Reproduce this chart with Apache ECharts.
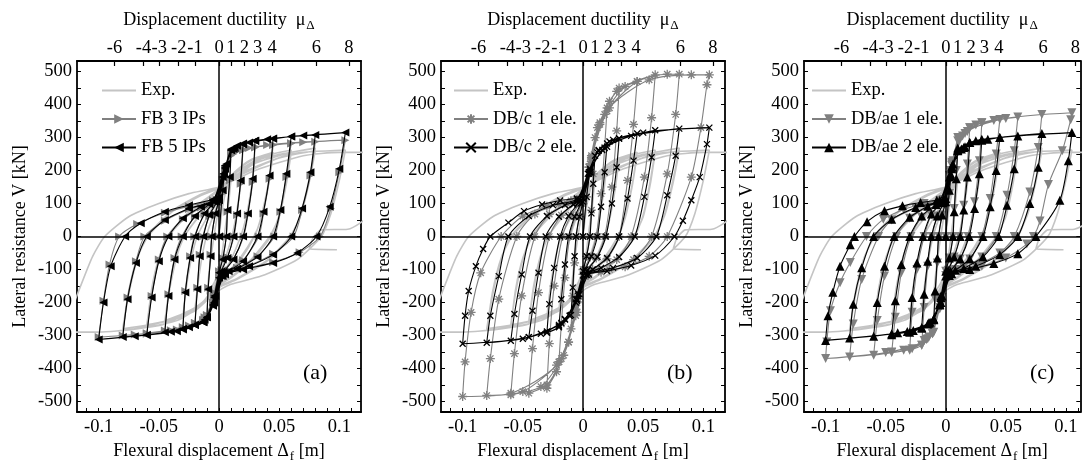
<!DOCTYPE html>
<html><head><meta charset="utf-8">
<script src="https://cdn.jsdelivr.net/npm/echarts@6/dist/echarts.min.js"></script>
<style>html,body{margin:0;padding:0;background:#fff}#c{width:1083px;height:468px}</style>
</head><body><div id="c"></div>
<script>
// ---------- tick labels ----------
const xTickLabels = [-0.1, -0.05, 0, 0.05, 0.1];
const xTickMarks = [-0.11,-0.1,-0.09,-0.08,-0.07,-0.06,-0.05,-0.04,-0.03,-0.02,-0.01,0,0.01,0.02,0.03,0.04,0.05,0.06,0.07,0.08,0.09,0.1,0.11];
const yTickLabels = [-500,-400,-300,-200,-100,0,100,200,300,400,500];
const yTickMarks = [-500,-450,-400,-350,-300,-250,-200,-150,-100,-50,0,50,100,150,200,250,300,350,400,450,500];
const ductLabels = ['-6','-4','-3','-2','-1','0','1','2','3','4','6','8'];
const ductPositions = [-0.0868,-0.0628,-0.0496,-0.0335,-0.0200,0,0.0099,0.0211,0.0322,0.0442,0.081,0.1079];
const panelLabels = ['(a)','(b)','(c)'];

// ---------- series values [displacement m, force kN] ----------
const expData = [
[0,0],[0.003,90],[0.006,140],[0.01,175],
[0.008,100],[0.005,20],[0.003,-40],[0,-100],[-0.004,-140],[-0.01,-175],
[-0.008,-100],[-0.005,-20],[-0.002,50],[0.002,110],[0.008,165],[0.02,218],
[0.017,130],[0.013,40],[0.01,-10],[0.004,-80],[0,-120],[-0.006,-165],[-0.012,-195],[-0.02,-222],
[-0.017,-130],[-0.013,-40],[-0.009,20],[-0.003,80],[0.002,125],[0.01,180],[0.02,215],[0.03,238],
[0.027,150],[0.022,50],[0.018,0],[0.01,-70],[0.002,-120],[-0.006,-170],[-0.015,-210],[-0.03,-245],
[-0.027,-150],[-0.022,-50],[-0.017,10],[-0.008,70],[0,125],[0.01,185],[0.025,230],[0.045,255],
[0.041,160],[0.035,60],[0.03,5],[0.018,-70],[0.005,-125],[-0.005,-175],[-0.02,-225],[-0.045,-262],
[-0.041,-150],[-0.035,-55],[-0.028,5],[-0.014,72],[0,128],[0.015,188],[0.03,228],[0.045,248],
[0.041,155],[0.035,55],[0.029,0],[0.017,-68],[0.004,-122],[-0.006,-170],[-0.02,-218],[-0.045,-255],
[-0.041,-160],[-0.035,-60],[-0.029,0],[-0.015,70],[0,130],[0.015,195],[0.035,240],[0.06,262],
[0.056,170],[0.05,65],[0.043,0],[0.028,-70],[0.01,-125],[-0.003,-155],[-0.015,-210],[-0.035,-255],[-0.06,-275],
[-0.056,-160],[-0.05,-65],[-0.042,0],[-0.024,72],[-0.005,126],[0.01,170],[0.03,222],[0.06,255],
[0.056,160],[0.05,60],[0.042,0],[0.027,-68],[0.01,-122],[-0.003,-152],[-0.015,-205],[-0.035,-248],[-0.06,-268],
[-0.056,-170],[-0.05,-70],[-0.043,0],[-0.025,75],[-0.005,130],[0.01,175],[0.035,235],[0.08,268],
[0.075,175],[0.068,70],[0.06,0],[0.04,-75],[0.015,-130],[0,-155],[-0.015,-210],[-0.045,-265],[-0.08,-285],
[-0.075,-165],[-0.068,-65],[-0.059,0],[-0.04,72],[-0.015,124],[0,146],[0.02,190],[0.05,238],[0.08,260],
[0.075,165],[0.068,65],[0.059,0],[0.04,-72],[0.015,-127],[0,-152],[-0.015,-205],[-0.045,-258],[-0.08,-280],
[-0.075,-175],[-0.068,-70],[-0.06,0],[-0.04,75],[-0.015,128],[0,150],[0.02,195],[0.06,250],[0.105,262],
[0.1,170],[0.093,70],[0.085,0],[0.065,-70],[0.035,-120],[0.01,-145],[-0.005,-175],[-0.03,-240],[-0.07,-280],[-0.1,-290],[-0.125,-290],
[-0.122,-220],[-0.115,-150],[-0.105,-60],[-0.095,0],[-0.075,60],[-0.05,100],[-0.025,130],[0,150],[0.03,200],[0.07,245],[0.1,255],[0.125,255],
[0.125,70],[0.107,22],[0.085,20],[0.078,-5],[0.075,-38],[0.098,-40]
];

const fb3 = [
[0,0],[0.003,130],[0.006,205],[0.01,250],
[0.009,170],[0.007,75],[0.0062,0],[0.003,-65],[0,-105],[-0.004,-170],[-0.01,-238],
[-0.009,-155],[-0.007,-55],[-0.0062,0],[-0.003,65],[0,105],[0.004,180],[0.01,250],[0.02,265],
[0.018,160],[0.015,65],[0.0125,0],[0.007,-62],[0.002,-102],[-0.004,-180],[-0.01,-240],[-0.02,-262],
[-0.018,-155],[-0.016,-55],[-0.0135,0],[-0.008,62],[-0.002,102],[0.004,180],[0.01,248],[0.02,262],[0.03,272],
[0.028,165],[0.024,65],[0.0205,0],[0.012,-68],[0.004,-105],[-0.003,-175],[-0.01,-240],[-0.02,-262],[-0.03,-275],
[-0.028,-165],[-0.024,-60],[-0.0205,0],[-0.012,68],[-0.004,102],[0.003,172],[0.01,245],[0.02,262],[0.03,270],[0.045,278],
[0.042,175],[0.037,70],[0.033,0],[0.02,-72],[0.008,-102],[0,-122],[-0.005,-200],[-0.012,-245],[-0.025,-270],[-0.045,-285],
[-0.042,-175],[-0.037,-65],[-0.031,0],[-0.02,60],[-0.008,95],[0,115],[0.005,195],[0.012,250],[0.025,268],[0.045,277],[0.06,283],
[0.056,180],[0.051,75],[0.046,0],[0.032,-60],[0.015,-95],[0.002,-118],[-0.005,-205],[-0.013,-252],[-0.03,-276],[-0.06,-293],
[-0.056,-180],[-0.05,-70],[-0.043,0],[-0.03,52],[-0.015,88],[-0.002,112],[0.005,198],[0.013,255],[0.03,272],[0.06,282],[0.08,287],
[0.076,185],[0.069,80],[0.062,0],[0.045,-52],[0.025,-88],[0.005,-112],[-0.004,-195],[-0.013,-255],[-0.035,-282],[-0.06,-295],[-0.08,-300],
[-0.076,-185],[-0.069,-75],[-0.062,0],[-0.045,48],[-0.025,83],[-0.005,108],[0.005,205],[0.015,260],[0.04,277],[0.07,286],[0.105,292],
[0.1,195],[0.093,85],[0.084,0],[0.067,-48],[0.045,-78],[0.02,-98],[0.003,-118],[-0.004,-195],[-0.013,-255],[-0.04,-284],[-0.07,-297],[-0.1,-305],
[-0.096,-195],[-0.091,-85],[-0.083,0],[-0.068,38],[-0.045,72],[-0.025,92],[-0.005,110]
];

const fb5 = [
[0,0],[0.003,140],[0.006,220],[0.01,265],
[0.009,180],[0.007,80],[0.006,0],[0.003,-70],[0,-110],[-0.004,-180],[-0.01,-245],
[-0.009,-160],[-0.007,-60],[-0.006,0],[-0.003,70],[0,110],[0.004,190],[0.01,262],[0.02,282],
[0.018,170],[0.015,70],[0.012,0],[0.007,-65],[0.002,-105],[-0.004,-185],[-0.01,-245],[-0.02,-268],
[-0.018,-160],[-0.016,-60],[-0.013,0],[-0.008,65],[-0.002,105],[0.004,190],[0.01,262],[0.02,280],[0.03,290],
[0.028,175],[0.024,70],[0.02,0],[0.012,-70],[0.004,-108],[-0.003,-180],[-0.01,-245],[-0.02,-268],[-0.03,-280],
[-0.028,-170],[-0.024,-65],[-0.02,0],[-0.012,70],[-0.004,105],[0.003,180],[0.01,262],[0.02,280],[0.03,290],[0.045,297],
[0.042,185],[0.037,75],[0.032,0],[0.02,-75],[0.008,-105],[0,-125],[-0.005,-205],[-0.012,-252],[-0.025,-275],[-0.045,-290],
[-0.042,-180],[-0.037,-70],[-0.03,0],[-0.02,62],[-0.008,98],[0,118],[0.005,205],[0.012,265],[0.025,285],[0.045,296],[0.06,303],
[0.056,190],[0.051,80],[0.045,0],[0.032,-62],[0.015,-98],[0.002,-120],[-0.005,-210],[-0.013,-258],[-0.03,-282],[-0.06,-298],
[-0.056,-185],[-0.05,-75],[-0.042,0],[-0.03,55],[-0.015,90],[-0.002,115],[0.005,210],[0.013,268],[0.03,290],[0.06,303],[0.08,308],
[0.076,195],[0.069,85],[0.06,0],[0.045,-55],[0.025,-90],[0.005,-115],[-0.004,-200],[-0.013,-260],[-0.035,-287],[-0.06,-299],[-0.08,-305],
[-0.076,-190],[-0.069,-80],[-0.06,0],[-0.045,50],[-0.025,85],[-0.005,110],[0.005,215],[0.015,275],[0.04,295],[0.07,306],[0.105,315],
[0.1,205],[0.092,90],[0.081,0],[0.065,-50],[0.045,-80],[0.02,-100],[0.003,-120],[-0.004,-200],[-0.013,-260],[-0.04,-289],[-0.07,-302],[-0.1,-312],
[-0.096,-200],[-0.09,-90],[-0.078,0],[-0.065,40],[-0.045,75],[-0.025,95],[-0.005,112]
];

const dbc1 = [
[0,0],[0.003,120],[0.006,220],[0.01,300],
[0.0085,190],[0.007,80],[0.0055,0],[0.003,-60],[0,-100],[-0.004,-180],[-0.01,-280],
[-0.0085,-180],[-0.007,-80],[-0.0055,0],[-0.003,60],[0,100],[0.005,210],[0.012,330],[0.02,390],
[0.018,270],[0.015,130],[0.011,0],[0.006,-62],[0.001,-100],[-0.005,-200],[-0.012,-320],[-0.02,-380],
[-0.018,-265],[-0.015,-125],[-0.011,0],[-0.006,62],[-0.001,100],[0.006,220],[0.014,340],[0.022,410],[0.03,450],
[0.028,320],[0.024,150],[0.018,0],[0.011,-65],[0.003,-102],[-0.004,-190],[-0.012,-320],[-0.022,-410],[-0.03,-460],
[-0.028,-325],[-0.024,-150],[-0.017,0],[-0.01,65],[-0.003,100],[0.005,210],[0.014,345],[0.028,440],[0.045,470],
[0.042,340],[0.037,170],[0.03,0],[0.02,-68],[0.008,-100],[0,-115],[-0.006,-220],[-0.016,-360],[-0.03,-450],[-0.045,-475],
[-0.042,-340],[-0.037,-170],[-0.028,0],[-0.018,65],[-0.007,100],[0,115],[0.007,235],[0.018,370],[0.035,455],[0.06,490],
[0.057,360],[0.051,180],[0.04,0],[0.028,-70],[0.013,-100],[0.002,-118],[-0.006,-230],[-0.018,-370],[-0.035,-455],[-0.06,-480],
[-0.057,-355],[-0.051,-180],[-0.04,0],[-0.028,68],[-0.013,98],[-0.002,115],[0.007,240],[0.02,380],[0.045,470],[0.07,492],[0.08,492],
[0.077,370],[0.07,190],[0.057,0],[0.042,-70],[0.022,-100],[0.004,-118],[-0.005,-230],[-0.02,-380],[-0.05,-470],[-0.08,-482],
[-0.077,-370],[-0.07,-190],[-0.055,0],[-0.04,68],[-0.02,98],[-0.003,115],[0.007,245],[0.022,390],[0.055,475],[0.09,490],[0.105,490],
[0.103,460],[0.098,330],[0.09,180],[0.07,0],[0.055,-60],[0.035,-92],[0.015,-108],[0.002,-120],[-0.006,-240],[-0.022,-390],[-0.06,-475],[-0.1,-485],
[-0.098,-380],[-0.093,-230],[-0.085,-110],[-0.068,0],[-0.05,62],[-0.03,92],[-0.01,108]
];

const dbc2 = [
[0,0],[0.003,120],[0.006,195],[0.01,245],
[0.0085,160],[0.007,70],[0.0058,0],[0.003,-60],[0,-105],[-0.004,-175],[-0.01,-238],
[-0.0085,-155],[-0.007,-60],[-0.0058,0],[-0.003,60],[0,105],[0.005,190],[0.012,255],[0.02,282],
[0.018,195],[0.015,90],[0.012,0],[0.007,-60],[0.002,-100],[-0.004,-180],[-0.011,-240],[-0.02,-272],
[-0.018,-190],[-0.015,-85],[-0.012,0],[-0.007,60],[-0.002,100],[0.005,195],[0.013,260],[0.022,288],[0.03,297],
[0.028,210],[0.024,100],[0.019,0],[0.012,-62],[0.004,-102],[-0.003,-175],[-0.011,-240],[-0.02,-275],[-0.03,-292],
[-0.028,-205],[-0.024,-95],[-0.019,0],[-0.012,62],[-0.004,102],[0.004,190],[0.013,262],[0.025,293],[0.045,312],
[0.042,230],[0.037,115],[0.03,0],[0.02,-65],[0.008,-100],[0,-118],[-0.006,-190],[-0.015,-250],[-0.03,-288],[-0.045,-305],
[-0.042,-225],[-0.037,-110],[-0.031,0],[-0.02,60],[-0.008,97],[0,115],[0.006,195],[0.016,262],[0.03,297],[0.06,322],
[0.057,240],[0.051,120],[0.043,0],[0.03,-62],[0.015,-95],[0.003,-115],[-0.005,-190],[-0.015,-252],[-0.035,-295],[-0.06,-316],
[-0.057,-235],[-0.051,-115],[-0.044,0],[-0.03,62],[-0.015,95],[-0.003,113],[0.006,200],[0.018,268],[0.04,305],[0.08,327],
[0.077,245],[0.07,125],[0.061,0],[0.045,-65],[0.025,-95],[0.005,-115],[-0.005,-195],[-0.018,-262],[-0.045,-305],[-0.08,-322],
[-0.077,-240],[-0.07,-120],[-0.062,0],[-0.045,62],[-0.025,95],[-0.005,113],[0.006,205],[0.02,272],[0.05,315],[0.105,330],
[0.103,280],[0.097,180],[0.09,110],[0.083,48],[0.076,0],[0.06,-58],[0.04,-88],[0.02,-105],[0.003,-117],[-0.006,-200],[-0.02,-268],[-0.05,-310],[-0.1,-325],
[-0.098,-240],[-0.095,-165],[-0.089,-90],[-0.083,-38],[-0.077,0],[-0.062,42],[-0.049,77],[-0.034,97],[-0.019,109],[-0.005,115]
];

const dbae1 = [
[0,0],[0.003,130],[0.006,230],[0.01,300],
[0.0088,200],[0.007,85],[0.0058,0],[0.003,-65],[0,-105],[-0.004,-190],[-0.01,-290],
[-0.0088,-190],[-0.007,-80],[-0.0058,0],[-0.003,65],[0,105],[0.004,200],[0.01,290],[0.02,330],
[0.018,220],[0.015,95],[0.0115,0],[0.007,-62],[0.002,-102],[-0.004,-195],[-0.011,-295],[-0.02,-330],
[-0.018,-215],[-0.015,-90],[-0.0115,0],[-0.007,62],[-0.002,102],[0.004,195],[0.011,295],[0.02,330],[0.03,345],
[0.028,230],[0.024,105],[0.0185,0],[0.012,-68],[0.004,-105],[-0.003,-185],[-0.011,-295],[-0.02,-330],[-0.03,-345],
[-0.028,-230],[-0.024,-100],[-0.018,0],[-0.012,66],[-0.004,102],[0.003,185],[0.011,295],[0.025,338],[0.045,355],
[0.042,250],[0.037,115],[0.03,0],[0.02,-68],[0.008,-100],[0,-118],[-0.005,-215],[-0.014,-305],[-0.028,-340],[-0.045,-352],
[-0.042,-245],[-0.037,-110],[-0.029,0],[-0.02,58],[-0.008,95],[0,113],[0.005,215],[0.014,305],[0.03,345],[0.06,362],
[0.057,260],[0.051,125],[0.042,0],[0.03,-62],[0.015,-95],[0.002,-115],[-0.005,-220],[-0.015,-310],[-0.035,-345],[-0.06,-360],
[-0.057,-255],[-0.051,-120],[-0.041,0],[-0.03,55],[-0.015,90],[-0.002,112],[0.005,220],[0.016,312],[0.04,352],[0.08,370],
[0.077,270],[0.07,135],[0.057,0],[0.045,-50],[0.025,-88],[0.005,-112],[-0.004,-210],[-0.016,-312],[-0.045,-350],[-0.08,-365],
[-0.077,-265],[-0.07,-130],[-0.056,0],[-0.045,50],[-0.025,86],[-0.005,108],[0.005,225],[0.018,318],[0.05,358],[0.105,375],
[0.104,354],[0.097,260],[0.0855,158],[0.0785,47],[0.073,0],[0.0675,-23],[0.05,-65],[0.03,-90],[0.012,-105],[0.002,-118],[-0.005,-215],[-0.018,-315],[-0.05,-352],[-0.1,-370],
[-0.099,-320],[-0.096,-225],[-0.088,-140],[-0.0795,-79],[-0.066,0],[-0.052,52],[-0.035,82],[-0.018,100],[-0.004,110]
];

const dbae2 = [
[0,0],[0.003,140],[0.006,220],[0.01,268],
[0.0088,175],[0.007,75],[0.006,0],[0.003,-65],[0,-105],[-0.004,-180],[-0.01,-250],
[-0.0088,-165],[-0.007,-65],[-0.006,0],[-0.003,65],[0,105],[0.004,185],[0.01,262],[0.02,285],
[0.018,180],[0.015,80],[0.012,0],[0.007,-62],[0.002,-102],[-0.004,-185],[-0.01,-250],[-0.02,-276],
[-0.018,-175],[-0.015,-75],[-0.012,0],[-0.007,62],[-0.002,102],[0.004,190],[0.01,262],[0.02,285],[0.03,295],
[0.028,190],[0.024,85],[0.0195,0],[0.012,-68],[0.004,-105],[-0.003,-180],[-0.01,-252],[-0.02,-278],[-0.03,-290],
[-0.028,-185],[-0.024,-80],[-0.019,0],[-0.012,68],[-0.004,103],[0.003,180],[0.01,260],[0.025,290],[0.045,300],
[0.042,200],[0.037,90],[0.031,0],[0.02,-68],[0.008,-102],[0,-120],[-0.005,-205],[-0.013,-260],[-0.027,-285],[-0.045,-298],
[-0.042,-195],[-0.037,-85],[-0.03,0],[-0.02,62],[-0.008,97],[0,115],[0.005,205],[0.013,265],[0.03,292],[0.06,305],
[0.057,205],[0.051,95],[0.044,0],[0.031,-62],[0.015,-97],[0.002,-117],[-0.005,-208],[-0.014,-262],[-0.032,-288],[-0.06,-302],
[-0.057,-200],[-0.051,-90],[-0.043,0],[-0.03,58],[-0.015,92],[-0.002,113],[0.005,210],[0.015,270],[0.035,295],[0.08,312],
[0.077,210],[0.07,100],[0.06,0],[0.045,-55],[0.025,-90],[0.005,-113],[-0.004,-200],[-0.014,-262],[-0.04,-292],[-0.08,-308],
[-0.077,-205],[-0.07,-95],[-0.06,0],[-0.045,52],[-0.025,88],[-0.005,110],[0.005,212],[0.016,272],[0.045,300],[0.105,315],
[0.102,230],[0.095,110],[0.075,0],[0.06,-52],[0.04,-82],[0.02,-100],[0.003,-118],[-0.005,-205],[-0.015,-265],[-0.045,-295],[-0.1,-315],
[-0.098,-240],[-0.094,-169],[-0.088,-90],[-0.0795,-25],[-0.076,0],[-0.0655,45],[-0.051,78],[-0.036,93],[-0.021,103],[-0.0075,110]
];

// ---------- styling ----------
const FONT = 'Liberation Serif';
const FS = 18.5;
const BLACK = '#000000', GRAY = '#808080', LIGHT = '#c4c4c4';
const SYM = {
  right: 'path://M0,0L10,5L0,10Z',
  left: 'path://M10,0L0,5L10,10Z',
  down: 'path://M0,0L10,0L5,9Z',
  up: 'path://M5,0L10,9L0,9Z',
  star: 'path://M5,0L5,10M0,5L10,5M1.5,1.5L8.5,8.5M8.5,1.5L1.5,8.5',
  cross: 'path://M0,0L10,10M10,0L0,10',
  blank: 'path://M0,0L10,10'
};
const GRID_LEFT = [77, 441, 804];
const GRID_WIDTH = [284, 284, 277];
const X_MAXS = [0.118, 0.118, 0.112];
const GRID_TOP = 61, GRID_H = 352;
const X_MIN = -0.118, Y_MIN = -532, Y_MAX = 532;

const panels = [
  {gray: {name: 'FB 3 IPs', data: fb3, sym: SYM.right, size: 8, stroke: false},
   black: {name: 'FB 5 IPs', data: fb5, sym: SYM.left, size: 8, stroke: false}, legendLeft: 96},
  {gray: {name: 'DB/c 1 ele.', data: dbc1, sym: SYM.star, size: 9, stroke: true},
   black: {name: 'DB/c 2 ele.', data: dbc2, sym: SYM.cross, size: 6, stroke: true}, legendLeft: 448},
  {gray: {name: 'DB/ae 1 ele.', data: dbae1, sym: SYM.down, size: 9, stroke: false},
   black: {name: 'DB/ae 2 ele.', data: dbae2, sym: SYM.up, size: 9, stroke: false}, legendLeft: 806}
];

const grid = [], xAxis = [], yAxis = [], series = [], legend = [], graphic = [];
const axisLineStyle = {color: '#000', width: 1.8};
const labelStyle = {fontFamily: FONT, fontSize: FS, color: '#000'};
const titleStyle = {fontFamily: FONT, fontSize: 18, color: '#000'};
const subRich = {sub: {fontFamily: FONT, fontSize: 13, color: '#000', padding: [11, 0, 0, 1]}};

panels.forEach((p, i) => {
  const X_MAX = X_MAXS[i];
  grid.push({left: GRID_LEFT[i], top: GRID_TOP, width: GRID_WIDTH[i], height: GRID_H});
  xAxis.push({
    type: 'value', gridIndex: i, position: 'bottom', min: X_MIN, max: X_MAX,
    axisLine: {show: true, onZero: false, lineStyle: axisLineStyle},
    axisTick: {show: true, inside: true, length: 4, lineStyle: {color: '#000', width: 1}, customValues: xTickMarks},
    axisLabel: {show: true, margin: 6, customValues: xTickLabels, ...labelStyle, formatter: v => String(v)},
    splitLine: {show: false},
    name: 'Flexural displacement Δ{sub|f} [m]', nameLocation: 'middle', nameGap: 27,
    nameTextStyle: {...titleStyle, rich: subRich}
  });
  xAxis.push({
    type: 'value', gridIndex: i, position: 'top', min: X_MIN, max: X_MAX,
    axisLine: {show: true, onZero: false, lineStyle: axisLineStyle},
    axisTick: {show: true, inside: true, length: 5, lineStyle: {color: '#000', width: 1.2}, customValues: ductPositions},
    axisLabel: {show: true, margin: 3, customValues: ductPositions, ...labelStyle,
      formatter: v => { const k = ductPositions.findIndex(d => Math.abs(d - v) < 1e-9); return k >= 0 ? ductLabels[k] : ''; }},
    splitLine: {show: false},
    name: 'Displacement ductility  μ{sub|Δ}', nameLocation: 'middle', nameGap: 29,
    nameTextStyle: {...titleStyle, rich: subRich}
  });
  yAxis.push({
    type: 'value', gridIndex: i, position: 'left', min: Y_MIN, max: Y_MAX,
    axisLine: {show: true, onZero: false, lineStyle: axisLineStyle},
    axisTick: {show: true, inside: true, length: 4, lineStyle: {color: '#000', width: 1}, customValues: yTickMarks},
    axisLabel: {show: true, margin: 5, customValues: yTickLabels, ...labelStyle},
    splitLine: {show: false},
    name: 'Lateral resistance V [kN]', nameLocation: 'middle', nameGap: 48,
    nameTextStyle: {...titleStyle}
  });
  yAxis.push({
    type: 'value', gridIndex: i, position: 'right', min: Y_MIN, max: Y_MAX,
    axisLine: {show: true, onZero: false, lineStyle: axisLineStyle},
    axisTick: {show: true, inside: true, length: 4, lineStyle: {color: '#000', width: 1}, customValues: yTickMarks},
    axisLabel: {show: false}, splitLine: {show: false}
  });

  const xi = 2 * i, yi = 2 * i;
  series.push({
    name: 'Exp.', type: 'line', xAxisIndex: xi, yAxisIndex: yi, data: expData,
    showSymbol: false, symbol: SYM.blank, smooth: 0.2, z: 1,
    lineStyle: {color: LIGHT, width: 1.6}, itemStyle: {color: LIGHT, borderWidth: 0},
    markLine: {silent: true, symbol: ['none', 'none'], label: {show: false}, animation: false,
      lineStyle: {color: '#000', width: 1.5, type: 'solid'}, data: [{xAxis: 0}, {yAxis: 0}]}
  });
  [['gray', GRAY, 2], ['black', BLACK, 3]].forEach(([k, col, z]) => {
    const s = p[k];
    series.push({
      name: s.name, type: 'line', xAxisIndex: xi, yAxisIndex: yi, data: s.data,
      smooth: 0.25, z: z, symbol: s.sym, symbolSize: s.size, showSymbol: true,
      lineStyle: {color: col, width: 1.1},
      itemStyle: {color: s.stroke ? 'rgba(0,0,0,0)' : col, borderColor: col, borderWidth: s.stroke ? 1.3 : 0}
    });
  });
  legend.push({
    data: ['Exp.', p.gray.name, p.black.name], orient: 'vertical', left: p.legendLeft, top: 76,
    itemWidth: 34, itemHeight: 12, itemGap: 9.5, selectedMode: false,
    textStyle: {fontFamily: FONT, fontSize: FS, color: '#000'}
  });
  graphic.push({type: 'text', left: GRID_LEFT[i] + 226, top: 362, silent: true,
    style: {text: panelLabels[i], fontFamily: FONT, fontSize: 22, fill: '#000'}});
});

const chart = echarts.init(document.getElementById('c'), null, {renderer: 'canvas'});
chart.setOption({animation: false, backgroundColor: '#fff', grid, xAxis, yAxis, series, legend, graphic});
</script>
</body></html>
